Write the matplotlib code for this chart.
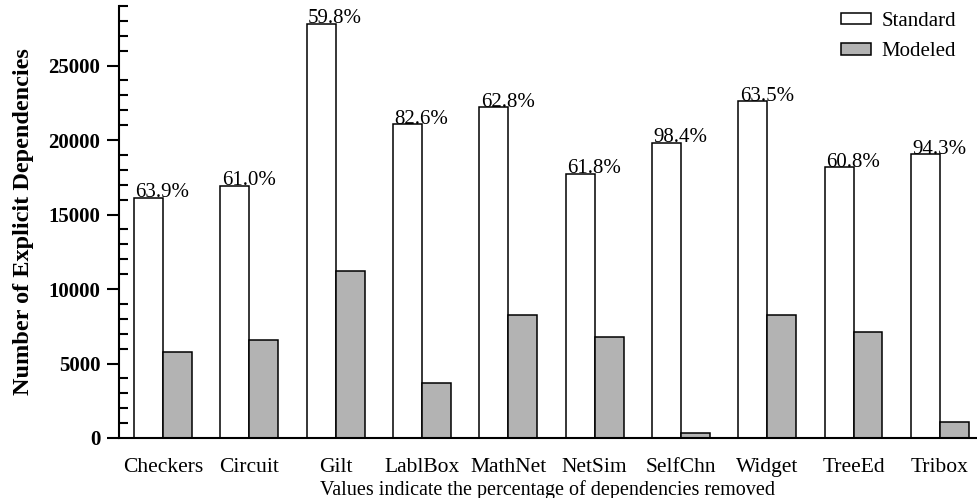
import numpy as np
import matplotlib
matplotlib.use("Agg")
import matplotlib.pyplot as plt
from matplotlib.ticker import MultipleLocator

# values
programs = ["Checkers", "Circuit", "Gilt", "LablBox", "MathNet",
            "NetSim", "SelfChn", "Widget", "TreeEd", "Tribox"]
standard = [16100, 16930, 27800, 21050, 22200, 17740, 19800, 22600, 18160, 19040]
modeled = [5800, 6600, 11180, 3660, 8250, 6780, 320, 8250, 7120, 1090]
removed = ["63.9%", "61.0%", "59.8%", "82.6%", "62.8%",
           "61.8%", "98.4%", "63.5%", "60.8%", "94.3%"]

plt.rcParams['font.family'] = ['Liberation Serif', 'DejaVu Serif']

fig = plt.figure(figsize=(9.77, 4.98), dpi=100)
ax = fig.add_axes([0.1218, 0.1205, 0.8782, 0.8675])

x = np.arange(len(programs))
w = 0.335
ax.bar(x - w/2, standard, w, color='white', edgecolor='black', linewidth=1.1, label='Standard')
ax.bar(x + w/2, modeled, w, color='#b3b3b3', edgecolor='black', linewidth=1.1, label='Modeled')

for xi, val, txt in zip(x, standard, removed):
    ax.annotate(txt, (xi - w, val), xytext=(1, 0.5), textcoords='offset points',
                ha='left', va='baseline', fontsize=15)

ax.set_xlim(-0.51, 9.43)
ax.set_ylim(0, 29000)
ax.set_xticks(x)
ax.set_xticklabels(programs, fontsize=15.5)
ax.tick_params(axis='x', length=0, pad=14.5)
ax.yaxis.set_major_locator(MultipleLocator(5000))
ax.yaxis.set_minor_locator(MultipleLocator(1000))
ax.tick_params(axis='y', which='major', direction='out', length=8.5, width=1.5, pad=5, labelsize=15)
ax.tick_params(axis='y', which='minor', direction='in', length=6.5, width=1.5)
for lab in ax.get_yticklabels():
    lab.set_fontweight('bold')

for s in ['top', 'right']:
    ax.spines[s].set_visible(False)
ax.spines['left'].set_linewidth(1.5)
ax.spines['bottom'].set_linewidth(1.5)

ax.set_ylabel('Number of Explicit Dependencies', fontsize=17.5, fontweight='bold', labelpad=10)
ax.set_xlabel('Values indicate the percentage of dependencies removed', fontsize=14.5, labelpad=2)

ax.legend(loc='upper right', bbox_to_anchor=(0.99, 1.015), frameon=False, fontsize=15,
          handlelength=1.45, handleheight=0.45, handletextpad=0.5, labelspacing=0.55,
          borderaxespad=0.2)

fig.savefig('out.png', dpi=100)
